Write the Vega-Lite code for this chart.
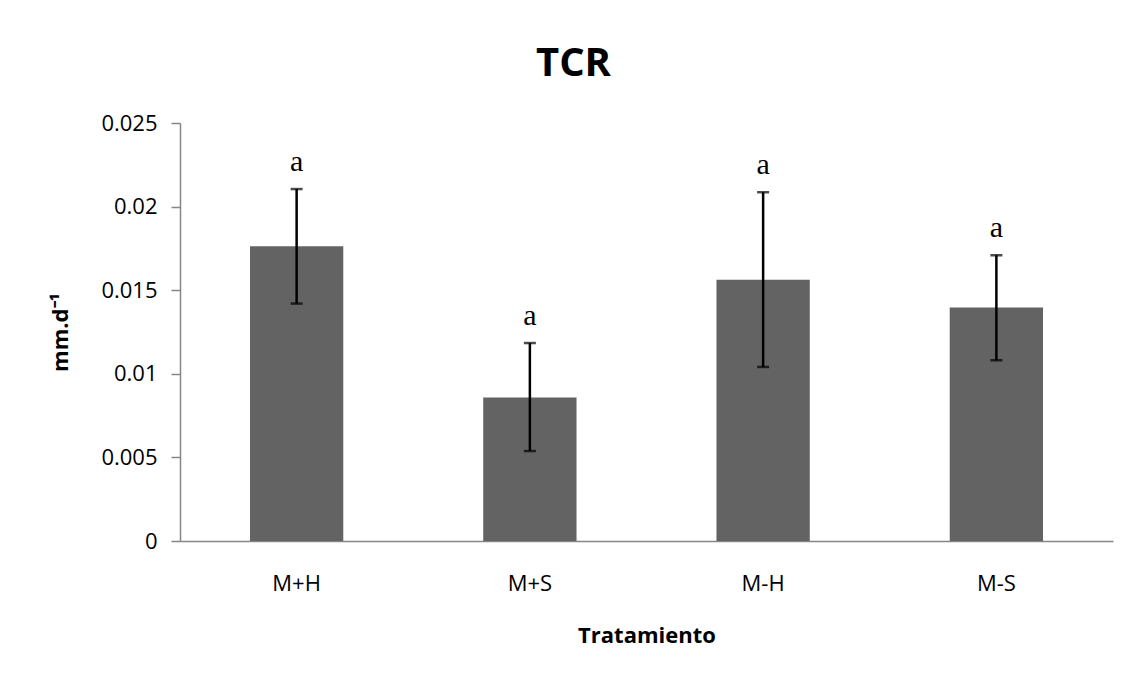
{
  "$schema": "https://vega.github.io/schema/vega-lite/v6.json",
  "autosize": {"type": "none"},
  "width": 933,
  "height": 418,
  "padding": {"left": 180, "top": 123, "right": 20, "bottom": 137},
  "background": "white",
  "title": {
    "text": "TCR",
    "font": "Open Sans",
    "fontSize": 40,
    "fontWeight": "bold",
    "color": "black",
    "anchor": "middle",
    "frame": "group",
    "dx": -73,
    "baseline": "alphabetic",
    "offset": -4
  },
  "data": {
    "values": [
      {"tratamiento": "M+H", "media": 0.01763, "lo": 0.0142, "hi": 0.02105, "letra": "a"},
      {"tratamiento": "M+S", "media": 0.00858, "lo": 0.00538, "hi": 0.01184, "letra": "a"},
      {"tratamiento": "M-H", "media": 0.01563, "lo": 0.01041, "hi": 0.02086, "letra": "a"},
      {"tratamiento": "M-S", "media": 0.01396, "lo": 0.01081, "hi": 0.01709, "letra": "a"}
    ]
  },
  "encoding": {
    "x": {
      "field": "tratamiento",
      "type": "nominal",
      "sort": null,
      "scale": {"paddingInner": 0.6, "paddingOuter": 0.3},
      "axis": {
        "title": "Tratamiento",
        "titleFont": "Open Sans",
        "titleFontSize": 22,
        "titleFontWeight": "bold",
        "titleColor": "black",
        "titlePadding": 31,
        "labelFont": "Open Sans",
        "labelFontSize": 22,
        "labelColor": "black",
        "labelAngle": 0,
        "labelPadding": 32,
        "ticks": false,
        "domainColor": "#868686",
        "domainWidth": 1.5
      }
    }
  },
  "layer": [
    {
      "mark": {"type": "bar", "color": "#636363"},
      "encoding": {
        "y": {
          "field": "media",
          "type": "quantitative",
          "scale": {"domain": [0, 0.025], "nice": false},
          "axis": {
            "title": "mm.d⁻¹",
            "titleFont": "Open Sans",
            "titleFontSize": 22,
            "titleFontWeight": "bold",
            "titleColor": "black",
            "titlePadding": 28,
            "values": [0, 0.005, 0.01, 0.015, 0.02, 0.025],
            "format": "~g",
            "labelFont": "Open Sans",
            "labelFontSize": 22,
            "labelColor": "black",
            "labelPadding": 14,
            "tickSize": 9,
            "tickColor": "#868686",
            "tickWidth": 1.5,
            "domainColor": "#868686",
            "domainWidth": 1.5,
            "grid": false
          }
        }
      }
    },
    {
      "mark": {"type": "rule", "color": "black", "strokeWidth": 2.5},
      "encoding": {
        "y": {"field": "lo", "type": "quantitative"},
        "y2": {"field": "hi"}
      }
    },
    {
      "mark": {"type": "tick", "color": "black", "thickness": 2.5, "size": 12, "orient": "horizontal"},
      "encoding": {"y": {"field": "lo", "type": "quantitative"}}
    },
    {
      "mark": {"type": "tick", "color": "black", "thickness": 2.5, "size": 12, "orient": "horizontal"},
      "encoding": {"y": {"field": "hi", "type": "quantitative"}}
    },
    {
      "mark": {"type": "text", "font": "Liberation Serif", "fontSize": 30, "color": "black", "baseline": "alphabetic", "dy": -18},
      "encoding": {
        "y": {"field": "hi", "type": "quantitative"},
        "text": {"field": "letra"}
      }
    }
  ],
  "config": {
    "view": {"stroke": null}
  }
}
